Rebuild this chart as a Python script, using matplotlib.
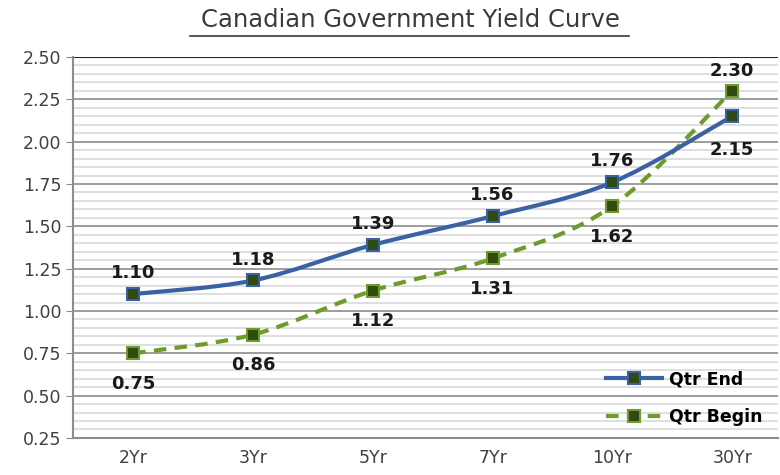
import matplotlib.pyplot as plt
import numpy as np
from matplotlib.ticker import MultipleLocator
from matplotlib.path import Path
from matplotlib.patches import PathPatch
from matplotlib.lines import Line2D

plt.rcParams['font.family'] = ['DejaVu Sans']

maturities = ['2Yr', '3Yr', '5Yr', '7Yr', '10Yr', '30Yr']
qtr_end = [1.10, 1.18, 1.39, 1.56, 1.76, 2.15]
qtr_begin = [0.75, 0.86, 1.12, 1.31, 1.62, 2.30]

blue = '#3a62a3'
green = '#6f9a2c'
fill = '#2f4a12'


def smooth_path(xs, ys):
    # Excel-style smoothed line: cubic Bezier segments through each point
    pts = np.column_stack([xs, ys]).astype(float)
    verts = [pts[0]]
    codes = [Path.MOVETO]
    n = len(pts)
    for i in range(n - 1):
        p0 = pts[max(i - 1, 0)]
        p1 = pts[i]
        p2 = pts[i + 1]
        p3 = pts[min(i + 2, n - 1)]
        c1 = p1 + (p2 - p0) / 6
        c2 = p2 - (p3 - p1) / 6
        verts += [c1, c2, p2]
        codes += [Path.CURVE4] * 3
    return Path(verts, codes)


fig = plt.figure(figsize=(7.8, 4.75), dpi=100)
ax = fig.add_axes([0.094, 0.078, 0.903, 0.802])

x = np.arange(len(maturities))
ax.add_patch(PathPatch(smooth_path(x, qtr_begin), fc='none', ec=green, lw=3,
                       ls=(0, (3, 2)), zorder=3))
ax.add_patch(PathPatch(smooth_path(x, qtr_end), fc='none', ec=blue, lw=3,
                       zorder=4))
ax.plot(x, qtr_begin, ls='none', marker='s', ms=8, mfc=fill, mec=green, mew=1.5, zorder=5)
ax.plot(x, qtr_end, ls='none', marker='s', ms=8, mfc=fill, mec=blue, mew=1.5, zorder=5)

for i, v in enumerate(qtr_end):
    off = -24 if i == len(qtr_end) - 1 else 15
    ax.annotate(f'{v:.2f}', (x[i], v), xytext=(0, off), textcoords='offset points',
                ha='center', va='center', fontsize=13, fontweight='bold', color='#1a1a1a')
for i, v in enumerate(qtr_begin):
    off = 14 if i == len(qtr_begin) - 1 else -22
    ax.annotate(f'{v:.2f}', (x[i], v), xytext=(0, off), textcoords='offset points',
                ha='center', va='center', fontsize=13, fontweight='bold', color='#1a1a1a')

ax.set_xlim(-0.5, 5.38)
ax.set_ylim(0.25, 2.5)
ax.set_xticks(x)
ax.set_xticklabels(maturities)
ax.yaxis.set_major_locator(MultipleLocator(0.25))
ax.yaxis.set_minor_locator(MultipleLocator(0.05))
ax.yaxis.set_major_formatter(lambda v, p: f'{v:.2f}')
ax.grid(axis='y', which='major', color='#8c8c8c', lw=1.2, zorder=1)
ax.grid(axis='y', which='minor', color='#d9d9d9', lw=1.2, zorder=0)
ax.set_axisbelow(True)
ax.axhline(2.5, color='#262626', lw=1.5, zorder=2)

for s in ['top', 'right']:
    ax.spines[s].set_visible(False)
ax.spines['left'].set_color('#8c8c8c')
ax.spines['left'].set_linewidth(1.5)
ax.spines['bottom'].set_color('#8c8c8c')
ax.spines['bottom'].set_linewidth(1.5)
ax.tick_params(axis='y', which='major', length=5, color='#8c8c8c', labelsize=12.5,
               labelcolor='#404040')
ax.tick_params(axis='y', which='minor', length=0)
ax.tick_params(axis='x', length=0, labelsize=12.5, labelcolor='#404040', pad=8)

handles = [
    Line2D([], [], color=blue, lw=3, marker='s', ms=8, mfc=fill, mec=blue, mew=1.5),
    Line2D([], [], color=green, lw=3, ls=(0, (3, 2)), marker='s', ms=8, mfc=fill,
           mec=green, mew=1.5),
]
leg = ax.legend(handles, ['Qtr End', 'Qtr Begin'], loc='lower right',
                bbox_to_anchor=(1.0, -0.01), frameon=False, fontsize=12.5,
                handlelength=3.2, labelspacing=1.15, handletextpad=0.4)
for t in leg.get_texts():
    t.set_fontweight('bold')

fig.text(0.526, 0.958, 'Canadian Government Yield Curve', ha='center', va='center',
         fontsize=17.5, color='#3a3a3a')
fig.add_artist(Line2D([0.244, 0.806], [0.924, 0.924], color='#3a3a3a', lw=1.2))

fig.savefig('out.png', dpi=100)
